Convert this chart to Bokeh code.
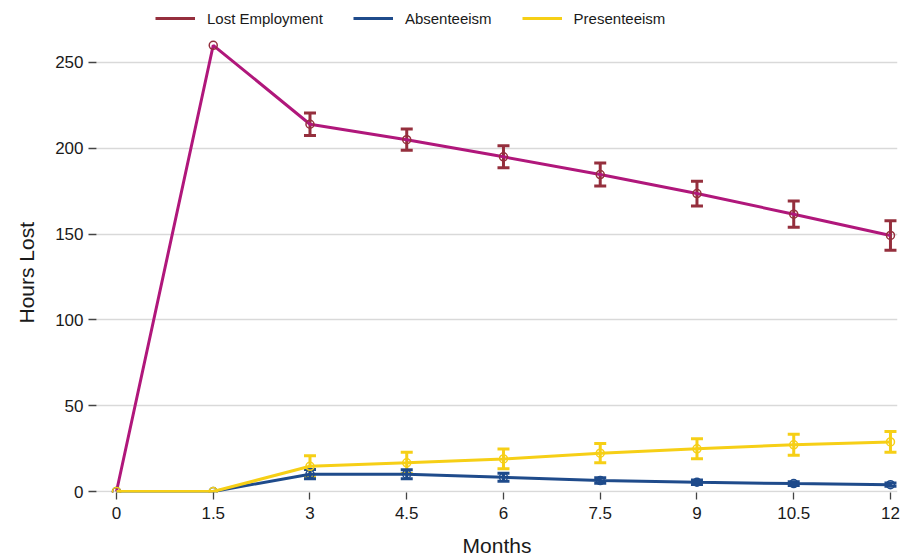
import math
from bokeh.plotting import figure
from bokeh.models import (ColumnDataSource, Whisker, TeeHead, FixedTicker,
                          NumeralTickFormatter, Legend, LegendItem, Title, Range1d)
from bokeh.embed import file_html
from bokeh.resources import INLINE

# ---- data ----
months = [0, 1.5, 3, 4.5, 6, 7.5, 9, 10.5, 12]
lost_employment = [0, 260, 214, 205, 195, 184.7, 173.6, 161.6, 149.2]
lost_err = [0, 0, 6.5, 6.2, 6.4, 6.7, 7.2, 7.6, 8.6]
absenteeism = [0, 0, 10.1, 10.1, 8.3, 6.4, 5.4, 4.6, 4.0]
abs_err = [0, 0, 2.7, 2.6, 2.3, 1.6, 1.3, 1.1, 1.0]
presenteeism = [0, 0, 14.7, 16.7, 19.0, 22.3, 24.9, 27.2, 28.9]
pres_err = [0, 0, 6.2, 6.2, 5.8, 5.6, 5.8, 6.1, 6.0]
y_ticks = [0, 50, 100, 150, 200, 250]
series_names = ["Lost Employment", "Absenteeism", "Presenteeism"]

FONT = "Liberation Sans"
MAGENTA = "#B0177B"
RED = "#952F3D"
NAVY = "#1F4B8B"
YELLOW = "#F6CF16"
TXT = "#1a1a1a"

p = figure(width=900, height=559, output_backend="svg", toolbar_location=None,
           x_range=Range1d(-0.31, 12.109), y_range=Range1d(-0.58, 286.1),
           min_border_left=96, min_border_right=3, min_border_top=0,
           min_border_bottom=67)
p.outline_line_color = None
p.background_fill_color = "white"
p.xgrid.grid_line_color = None
p.ygrid.grid_line_color = "#d9d9d9"
p.ygrid.grid_line_width = 1.6

for ax in (p.xaxis[0], p.yaxis[0]):
    ax.axis_line_color = None
    ax.minor_tick_line_color = None
    ax.major_tick_in = 0
    ax.major_tick_line_color = "#444444"
    ax.major_tick_line_width = 1.3
    ax.major_label_text_font = FONT
    ax.major_label_text_font_size = "17px"
    ax.major_label_text_color = TXT

p.yaxis.ticker = FixedTicker(ticks=y_ticks)
p.yaxis.major_tick_out = 8
p.yaxis.major_label_standoff = 5
p.xaxis.ticker = FixedTicker(ticks=months)
p.xaxis.formatter = NumeralTickFormatter(format="0.[0]")
p.xaxis.major_tick_out = 7
p.xaxis.major_label_standoff = 7
p.xaxis.axis_label = "Months"
p.xaxis.axis_label_text_font = FONT
p.xaxis.axis_label_text_font_size = "21px"
p.xaxis.axis_label_text_font_style = "normal"
p.xaxis.axis_label_text_color = TXT
p.xaxis.axis_label_standoff = 12

series = [
    (presenteeism, pres_err, YELLOW, YELLOW, YELLOW),
    (absenteeism, abs_err, NAVY, NAVY, NAVY),
    (lost_employment, lost_err, MAGENTA, RED, RED),
]

# error bars
for yvals, errs, line_color, bar_color, marker_color in series:
    idx = [i for i, e in enumerate(errs) if e > 0]
    src = ColumnDataSource(dict(
        x=[months[i] for i in idx],
        upper=[yvals[i] + errs[i] for i in idx],
        lower=[yvals[i] - errs[i] for i in idx]))
    p.add_layout(Whisker(source=src, base="x", upper="upper", lower="lower",
                         line_color=bar_color, line_width=3,
                         upper_head=TeeHead(size=12, line_color=bar_color, line_width=3),
                         lower_head=TeeHead(size=12, line_color=bar_color, line_width=3)))

# lines and markers (presenteeism on top)
for yvals, errs, line_color, bar_color, marker_color in reversed(series):
    p.line(months, yvals, line_color=line_color, line_width=3)
    p.scatter(months, yvals, marker="circle", size=8, fill_color=None,
              line_color=marker_color, line_width=1.5)

# legend entries (renderers without visible data)
leg_colors = [RED, NAVY, YELLOW]
items = []
for name, c in zip(series_names, leg_colors):
    r = p.line(x=[float("nan")], y=[float("nan")], line_color=c, line_width=3)
    items.append(LegendItem(label=name, renderers=[r]))

legend = Legend(items=items, location=(59, 464), orientation="horizontal",
                glyph_width=40, glyph_height=20, label_standoff=12, spacing=30,
                padding=0, margin=0, border_line_color=None,
                background_fill_alpha=0, label_text_font=FONT,
                label_text_font_size="15px", label_text_color=TXT)
p.add_layout(legend)

ytitle = Title(text="Hours Lost", align="left", offset=169, text_font=FONT,
               text_font_size="21px", text_font_style="normal",
               text_color=TXT, standoff=26, vertical_align="top")
p.add_layout(ytitle, "left")

open("out.html", "w").write(file_html(p, INLINE))
